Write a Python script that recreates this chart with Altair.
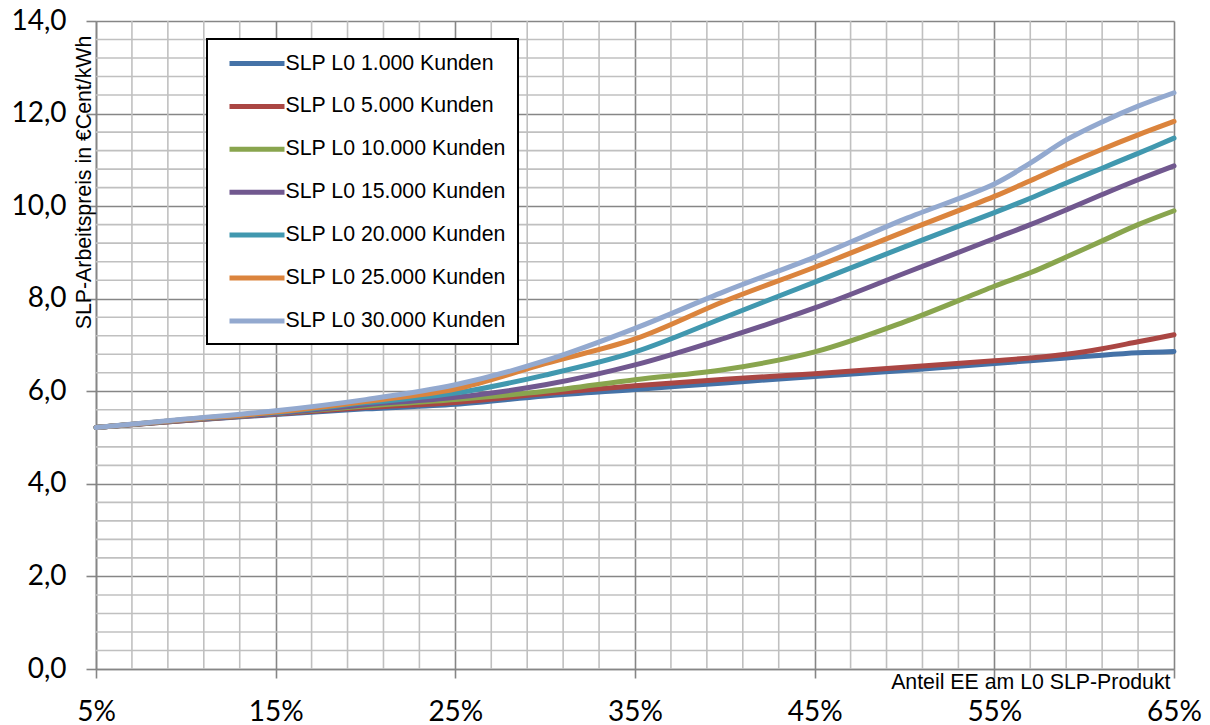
import altair as alt
import pandas as pd

# Share of renewable energy in the L0 standard load profile product (%)
share = [5, 10, 15, 20, 25, 30, 35, 40, 45, 50, 55, 57, 59, 61, 63, 65]

# SLP energy price in €Cent/kWh per customer count
kunden_1000 = [5.22, 5.37, 5.50, 5.62, 5.72, 5.90, 6.04, 6.18, 6.32, 6.45, 6.60, 6.66, 6.72, 6.78, 6.83, 6.86]
kunden_5000 = [5.22, 5.37, 5.51, 5.65, 5.76, 5.95, 6.12, 6.26, 6.38, 6.52, 6.66, 6.72, 6.80, 6.92, 7.07, 7.22]
kunden_10000 = [5.22, 5.38, 5.52, 5.68, 5.82, 6.00, 6.25, 6.47, 6.85, 7.50, 8.27, 8.56, 8.90, 9.25, 9.60, 9.90]
kunden_15000 = [5.22, 5.38, 5.52, 5.71, 5.87, 6.14, 6.57, 7.15, 7.80, 8.55, 9.30, 9.60, 9.92, 10.25, 10.57, 10.87]
kunden_20000 = [5.22, 5.39, 5.54, 5.75, 5.96, 6.35, 6.85, 7.60, 8.36, 9.12, 9.86, 10.17, 10.50, 10.82, 11.14, 11.47]
kunden_25000 = [5.22, 5.39, 5.55, 5.78, 6.05, 6.60, 7.13, 7.95, 8.68, 9.45, 10.21, 10.55, 10.90, 11.23, 11.54, 11.83]
kunden_30000 = [5.22, 5.40, 5.58, 5.82, 6.14, 6.66, 7.36, 8.16, 8.90, 9.72, 10.48, 10.93, 11.43, 11.82, 12.16, 12.45]

series_names = [
    "SLP L0 1.000 Kunden",
    "SLP L0 5.000 Kunden",
    "SLP L0 10.000 Kunden",
    "SLP L0 15.000 Kunden",
    "SLP L0 20.000 Kunden",
    "SLP L0 25.000 Kunden",
    "SLP L0 30.000 Kunden",
]
series_values = [kunden_1000, kunden_5000, kunden_10000, kunden_15000,
                 kunden_20000, kunden_25000, kunden_30000]
series_colors = ["#4572A7", "#AA4643", "#89A54E", "#71588F",
                 "#4198AF", "#DB843D", "#93A9CF"]

x_ticks = [5, 15, 25, 35, 45, 55, 65]
y_ticks = [0, 2, 4, 6, 8, 10, 12, 14]

rows = []
for name, values in zip(series_names, series_values):
    for x, v in zip(share, values):
        rows.append({"Anteil": x, "Preis": v, "Serie": name})
df = pd.DataFrame(rows)

# minor grid positions between the labelled ticks
minor_x = pd.DataFrame({"gx": [v for v in range(5, 66, 2) if (v - 5) % 10 != 0]})
minor_y = pd.DataFrame({"gy": [round(0.4 * i, 1) for i in range(1, 35) if i % 5 != 0]})

W, H = 1078, 648
MAJOR = "#868686"
MINOR = "#C0C0C0"
TEXT_FONT = "Liberation Sans"
TICK_FONT = "Lato"

x_scale = alt.Scale(domain=[5, 65], nice=False, zero=False)
y_scale = alt.Scale(domain=[0, 14], nice=False, zero=True)

x_axis = alt.Axis(
    values=x_ticks,
    labelExpr="format(datum.value, 'd') + '%'",
    title="Anteil EE am L0 SLP-Produkt",
    titleX=1074,
    titleY=19,
    titleAlign="right",
    titleBaseline="alphabetic",
    titleFont=TEXT_FONT,
    titleFontSize=21.3,
    titleFontWeight="normal",
    titleColor="#000000",
    labelFont=TICK_FONT,
    labelFontSize=28,
    labelColor="#000000",
    labelBaseline="alphabetic",
    labelPadding=42,
    tickSize=9,
    tickColor=MAJOR,
    tickWidth=1.6,
    domainColor=MAJOR,
    domainWidth=1.6,
    gridColor=MAJOR,
    gridWidth=1.6,
    labelFlush=False,
    labelOverlap=False,
)

y_axis = alt.Axis(
    values=y_ticks,
    labelExpr="replace(format(datum.value, '.1f'), '.', ',')",
    title="SLP-Arbeitspreis in €Cent/kWh",
    titleAngle=270,
    titleX=-2,
    titleY=161,
    titleAlign="center",
    titleBaseline="bottom",
    titleFont=TEXT_FONT,
    titleFontSize=21.3,
    titleFontWeight="normal",
    titleColor="#000000",
    labelFont=TICK_FONT,
    labelFontSize=28,
    labelColor="#000000",
    labelPadding=20,
    tickSize=10,
    tickColor=MAJOR,
    tickWidth=1.6,
    domainColor=MAJOR,
    domainWidth=1.6,
    gridColor=MAJOR,
    gridWidth=1.6,
    labelFlush=False,
    labelOverlap=False,
)

grid_v = alt.Chart(minor_x).mark_rule(color=MINOR, strokeWidth=1.6).encode(
    x=alt.X("gx:Q", scale=x_scale, axis=x_axis)
)
grid_h = alt.Chart(minor_y).mark_rule(color=MINOR, strokeWidth=1.6).encode(
    y=alt.Y("gy:Q", scale=y_scale, axis=y_axis)
)

lines = alt.Chart(df).mark_line(
    interpolate="catmull-rom", strokeWidth=5, strokeCap="round", strokeJoin="round"
).encode(
    x=alt.X("Anteil:Q", scale=x_scale, axis=x_axis),
    y=alt.Y("Preis:Q", scale=y_scale, axis=y_axis),
    color=alt.Color(
        "Serie:N",
        scale=alt.Scale(domain=series_names, range=series_colors),
        sort=series_names,
        legend=alt.Legend(
            title=None,
            orient="none",
            legendX=111,
            legendY=18,
            padding=12,
            strokeColor="#000000",
            fillColor="#FFFFFF",
            symbolType="M-2.75,0L2.75,0",
            symbolSize=400,
            symbolStrokeWidth=5,
            symbolOffset=25.5,
            labelOffset=16,
            labelFont=TEXT_FONT,
            labelFontSize=21.3,
            labelColor="#000000",
            labelLimit=400,
            rowPadding=19.9,
        ),
    ),
)

chart = alt.layer(grid_v, grid_h, lines).properties(
    width=W,
    height=H,
    padding={"left": 96, "top": 21, "right": 36, "bottom": 56},
    autosize=alt.AutoSizeParams(type="none"),
    background="#FFFFFF",
).configure_view(strokeWidth=0).configure_legend(strokeWidth=2)

chart.save("out.html", embed_options={"renderer": "svg", "actions": False})
